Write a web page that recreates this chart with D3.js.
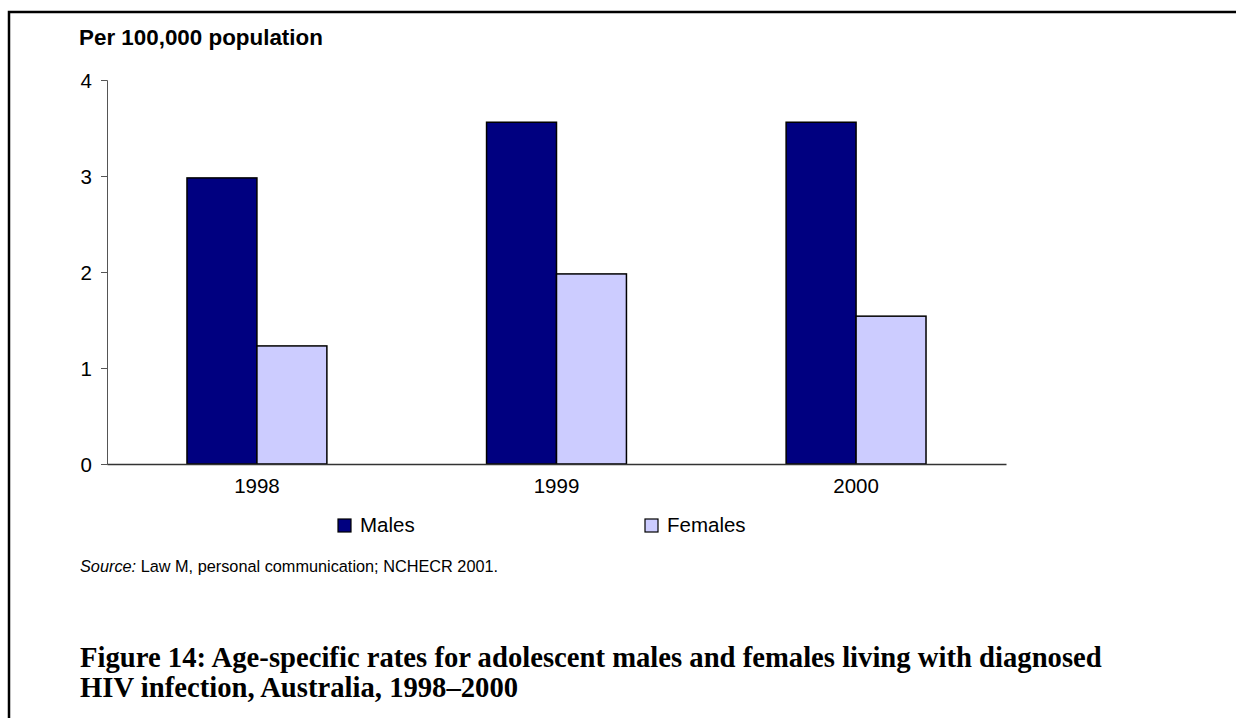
<!DOCTYPE html>
<html>
<head>
<meta charset="utf-8">
<script src="https://cdn.jsdelivr.net/npm/d3@7"></script>
<style>
  html, body { margin: 0; padding: 0; background: #fff; }
  svg { display: block; }
</style>
</head>
<body>
<svg id="chart" width="1236" height="718"></svg>
<script>
const categories = ["1998", "1999", "2000"];
const seriesNames = ["Males", "Females"];
const males = [2.98, 3.56, 3.56];
const females = [1.23, 1.98, 1.54];
const yTicks = [0, 1, 2, 3, 4];
const colors = ["#000080", "#CCCCFF"];
const yLabel = "Per 100,000 population";
const sourceLabel = "Source:";
const sourceText = " Law M, personal communication; NCHECR 2001.";
const titleLines = [
  "Figure 14: Age-specific rates for adolescent males and females living with diagnosed",
  "HIV infection, Australia, 1998\u20132000"
];

const svg = d3.select("#chart");
const W = 1236, H = 718;
const plot = { left: 107, right: 1006, top: 80, bottom: 464 };

// frame (left and top edges)
svg.append("path")
  .attr("d", `M9,${H} L9,12 L${W},12`)
  .attr("fill", "none").attr("stroke", "#000").attr("stroke-width", 2.5);

const x0 = d3.scaleBand().domain(categories)
  .range([plot.left, plot.right]).paddingInner(0.533).paddingOuter(0.267);
const x1 = d3.scaleBand().domain(seriesNames).range([0, x0.bandwidth()]);
const y = d3.scaleLinear().domain([0, 4]).range([plot.bottom, plot.top]);

const data = categories.map((c, i) => ({ cat: c, vals: [males[i], females[i]] }));

// y axis
const yAxis = svg.append("g").attr("transform", `translate(${plot.left},0)`)
  .call(d3.axisLeft(y).tickValues(yTicks).tickSize(6).tickPadding(9).tickFormat(d3.format("d")));
yAxis.select(".domain").attr("stroke", "#555").attr("stroke-width", 1);
yAxis.selectAll(".tick line").attr("stroke", "#555");
yAxis.selectAll(".tick text").attr("font-family", "Arial, 'Liberation Sans', sans-serif")
  .attr("font-size", 20.5).attr("fill", "#000").attr("dy", "0.36em");

// bars
const groups = svg.append("g").selectAll("g").data(data).join("g")
  .attr("transform", d => `translate(${x0(d.cat)},0)`);
groups.selectAll("rect").data(d => d.vals.map((v, j) => ({ v, s: seriesNames[j], j })))
  .join("rect")
  .attr("x", d => x1(d.s))
  .attr("y", d => y(d.v))
  .attr("width", x1.bandwidth())
  .attr("height", d => y(0) - y(d.v))
  .attr("fill", d => colors[d.j])
  .attr("stroke", "#000").attr("stroke-width", 1.5);

// x axis
const xAxis = svg.append("g").attr("transform", `translate(0,${plot.bottom})`)
  .call(d3.axisBottom(x0).tickSize(0).tickPadding(14));
xAxis.select(".domain").attr("stroke", "#333").attr("stroke-width", 1.5);
xAxis.selectAll(".tick text").attr("font-family", "Arial, 'Liberation Sans', sans-serif")
  .attr("font-size", 20.5).attr("fill", "#000");

// y label
svg.append("text").attr("x", 79).attr("y", 45)
  .attr("font-family", "Arial, 'Liberation Sans', sans-serif")
  .attr("font-weight", "bold").attr("font-size", 22.4).attr("fill", "#000")
  .text(yLabel);

// legend
const legendX = [338, 645];
const leg = svg.append("g").selectAll("g").data(seriesNames).join("g")
  .attr("transform", (d, i) => `translate(${legendX[i]},519)`);
leg.append("rect").attr("width", 13).attr("height", 13)
  .attr("fill", (d, i) => colors[i]).attr("stroke", "#000").attr("stroke-width", 1.2);
leg.append("text").attr("x", 22).attr("y", 13)
  .attr("font-family", "Arial, 'Liberation Sans', sans-serif")
  .attr("font-size", 20.5).attr("fill", "#000").text(d => d);

// source
const src = svg.append("text").attr("x", 80).attr("y", 572)
  .attr("font-family", "Arial, 'Liberation Sans', sans-serif")
  .attr("font-size", 16.3).attr("fill", "#000");
src.append("tspan").attr("font-style", "italic").text(sourceLabel);
src.append("tspan").text(sourceText);

// title
const title = svg.append("g");
const tl = title.selectAll("text").data(titleLines).join("text")
  .attr("x", 80).attr("y", (d, i) => 667 + i * 30)
  .attr("font-family", "'Palatino Linotype', 'Book Antiqua', Palatino, 'Liberation Serif', serif")
  .attr("font-weight", "bold").attr("font-size", 26).attr("fill", "#000")
  .text(d => d);
// fit first line width to reference (~1022px)
const w0 = tl.nodes()[0].getComputedTextLength();
const fs = 26 * 1022 / w0;
tl.attr("font-size", Math.min(fs, 30));
</script>
</body>
</html>
